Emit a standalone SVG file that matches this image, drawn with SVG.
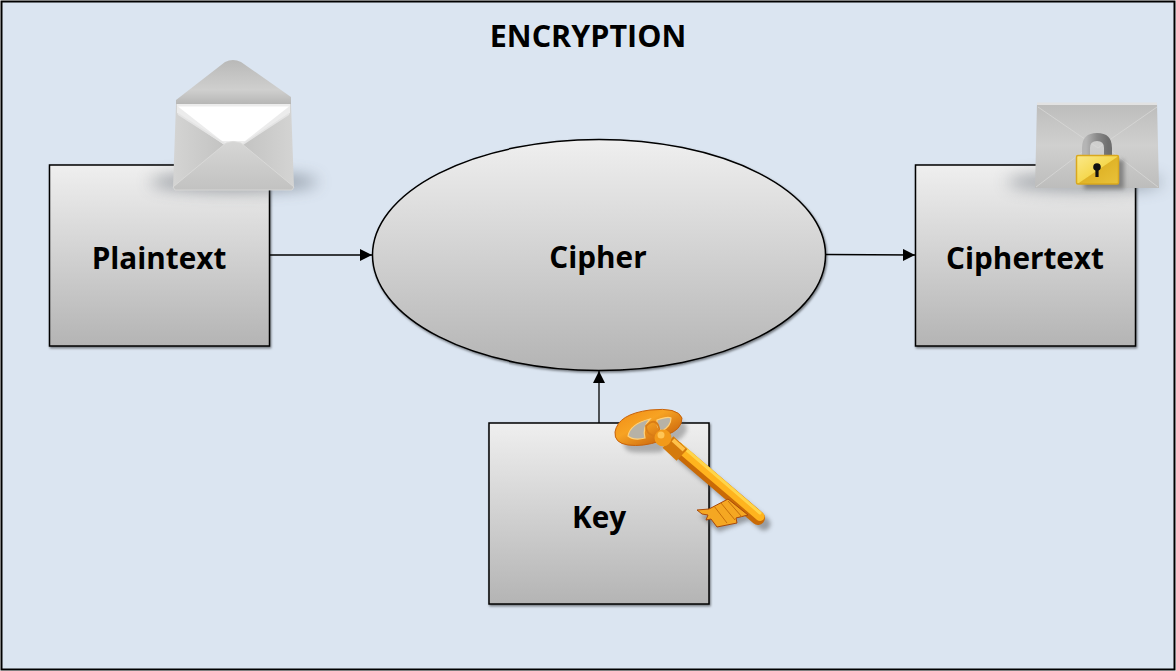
<svg xmlns="http://www.w3.org/2000/svg" width="1176" height="671" viewBox="0 0 1176 671">
<style>
text{font-family:"Open Sans","Noto Sans","Liberation Sans",sans-serif;font-weight:700;font-size:29.7px;fill:#000;text-anchor:middle}
.n{fill:url(#g);stroke:#000;stroke-width:1.5;filter:url(#ds)}
.c{stroke:#000;stroke-width:1.3;fill:none;marker-end:url(#a)}
</style>
<defs>
<linearGradient id="g" x1="0" y1="0" x2="0" y2="1"><stop offset="0" stop-color="#efefef"/><stop offset="1" stop-color="#b4b4b4"/></linearGradient>
<linearGradient id="e2" x1="0" y1="0" x2="1" y2="0"><stop offset="0" stop-color="#d4d4d3"/><stop offset=".5" stop-color="#c0c0bf"/><stop offset="1" stop-color="#d4d4d3"/></linearGradient>
<linearGradient id="e3" x1="0" y1="0" x2="0" y2="1"><stop offset="0" stop-color="#bcbcbb"/><stop offset=".5" stop-color="#d0d0cf"/><stop offset="1" stop-color="#bdbdbc"/></linearGradient>
<linearGradient id="f" x1="0" y1="0" x2="0" y2="1"><stop offset="0" stop-color="#b9b9b8"/><stop offset=".65" stop-color="#cfcfce"/><stop offset="1" stop-color="#b3b3b2"/></linearGradient>
<linearGradient id="fl" x1="0" y1="0" x2="0" y2="1"><stop offset="0" stop-color="#d6d6d5"/><stop offset="1" stop-color="#c2c2c1"/></linearGradient>
<linearGradient id="lock" x1="0" y1="0" x2="1" y2="1"><stop offset="0" stop-color="#fbe98a"/><stop offset=".5" stop-color="#f5d850"/><stop offset=".52" stop-color="#e0b428"/><stop offset="1" stop-color="#e9c23a"/></linearGradient>
<linearGradient id="sk" x1="0" y1="0" x2="1" y2="0"><stop offset="0" stop-color="#b5b5b5"/><stop offset=".5" stop-color="#8a8a8a"/><stop offset="1" stop-color="#6e6e6e"/></linearGradient>
<linearGradient id="kg" x1="0" y1="0" x2="1" y2="1"><stop offset="0" stop-color="#f08a14"/><stop offset=".4" stop-color="#f7a323"/><stop offset="1" stop-color="#b94e04"/></linearGradient>
<filter id="ds" x="-5%" y="-5%" width="110%" height="110%"><feDropShadow dx="1" dy="1.5" stdDeviation=".8" flood-color="#000" flood-opacity=".5"/></filter>
<filter id="b" x="-30%" y="-100%" width="160%" height="300%"><feGaussianBlur stdDeviation="8"/></filter>
<filter id="b2" x="-30%" y="-30%" width="160%" height="160%"><feGaussianBlur stdDeviation="2"/></filter>
<marker id="a" viewBox="0 0 12 12" refX="12" refY="6" markerWidth="12" markerHeight="12" markerUnits="userSpaceOnUse" orient="auto"><path d="M0 0L12 6L0 12Z" fill="#000"/></marker>
</defs>
<rect x="1.500" y="1.500" width="1173" height="668" fill="#dbe5f1" stroke="#000" stroke-width="2"/>
<text id="title" x="588" y="47" style="font-size:30.500px">ENCRYPTION</text>
<g id="connectors">
<path class="c" d="M270 255H372"/>
<path class="c" d="M826 254.500L915 255"/>
<path class="c" d="M599 423V371"/>
</g>
<g id="plaintext"><rect class="n" x="49.500" y="165" width="220" height="181"/><text x="159" y="269">Plaintext</text></g>
<g id="cipher"><ellipse class="n" cx="599" cy="255" rx="226.500" ry="115.500"/><text x="598" y="268">Cipher</text></g>
<g id="ciphertext"><rect class="n" x="915.500" y="165" width="220" height="181"/><text x="1025" y="269">Ciphertext</text></g>
<g id="key"><rect class="n" x="489" y="423" width="220" height="181"/><text x="599" y="528">Key</text></g>
<g id="envelope-open">
<ellipse cx="234" cy="182" rx="84" ry="9" fill="#4f5964" opacity=".55" filter="url(#b)"/>
<path d="M176 100L225 62Q233 58 241 62L291 97V106H176Z" fill="url(#f)"/>
<path d="M176 104H291L294 188H173Z" fill="url(#e2)"/>
<path d="M177 104H290V113L240 146H226L177 113Z" fill="#ececec"/>
<path d="M178 106.500H289L245 141H222Z" fill="#fff"/>
<path d="M178 114L228 146M289 114L240 146" fill="none" stroke="#e4e4e4" stroke-width="1.500"/>
<path d="M173 187L226 143Q233 140 241 143L294 187 292 190H175Z" fill="url(#fl)" stroke="#dcdcdb" stroke-width=".8"/>
</g>
<g id="envelope-lock">
<ellipse cx="1085" cy="182" rx="78" ry="9" fill="#4f5964" opacity=".5" filter="url(#b)"/>
<path d="M1037 103H1157L1159 188 1035 188Z" fill="url(#e3)"/>
<path d="M1037 102.500H1157V105H1037Z" fill="#e2e2e2"/>
<path d="M1038 107L1098 148 1157 107M1036 187L1085 150M1158 187L1110 150" fill="none" stroke="#d8d8d7" stroke-width=".8"/>
<rect x="1084" y="160" width="40" height="29" fill="#666" opacity=".7" filter="url(#b2)"/>
<path d="M1086 157V148Q1086 137 1097 137 1108 137 1108 148V157" fill="none" stroke="url(#sk)" stroke-width="8"/>
<rect x="1076.500" y="155.500" width="42" height="28.500" rx="1.500" fill="url(#lock)" stroke="#d9a81e" stroke-width="1.500"/>
<circle cx="1097" cy="167" r="3.800" fill="#111"/>
<rect x="1095.400" y="168" width="3.200" height="9" fill="#111"/>
</g>
<g id="key-icon">
<path d="M680 454L764 524" stroke="#555" stroke-width="13" opacity=".5" stroke-linecap="round" filter="url(#b2)"/>
<path d="M700 516L731 505 750 520 719 532Z" fill="#555" opacity=".5" filter="url(#b2)"/>
<path d="M620 434Q628 412 660 412 684 412 683 424 678 436 664 437L658 446Q640 447 628 446 618 444 620 434Z" fill="#555" opacity=".4" transform="translate(4 6)" filter="url(#b2)"/>
<path d="M615 432Q618 414 650 410 678 407 682 418 682 430 666 435L660 441Q643 447 628 445 614 443 615 432Z" fill="url(#kg)" stroke="#c8620a" stroke-width="1"/>
<path d="M628 436Q630 424 650 419 642 428 645 438 634 441 628 436ZM657 420Q668 416 671 418 671 426 662 431 656 428 657 420Z" fill="#b7b2a6" stroke="#ffd17a" stroke-width="1.200"/>
<path d="M646 426Q654 418 658 425 662 434 654 436 646 434 646 426Z" fill="none" stroke="#d97d16" stroke-width="1.800"/>
<path d="M676 448L758 518" stroke="#c96a06" stroke-width="14" stroke-linecap="round"/>
<path d="M678 446.500L760 516.500" stroke="#ffb41e" stroke-width="9" stroke-linecap="round"/>
<path d="M681 445L760 513" stroke="#ffd54a" stroke-width="3" stroke-linecap="round"/>
<path d="M668 442L682 455" stroke="#d47a0c" stroke-width="16"/>
<path d="M673 440L684 450" stroke="#ffc24a" stroke-width="4"/>
<circle cx="663" cy="438" r="8.500" fill="#f29a1a"/>
<circle cx="661" cy="435" r="3.500" fill="#ffc555"/>
<path d="M697 510L709 509 728 499 748 515 736 518 737 523 717 527 711 519 706 520 708 515 702 514Z" fill="#f5a722" stroke="#a8480a" stroke-width="1"/>
<path d="M714 506L727 523M721 503L735 520M728 501L742 517" stroke="#c66f0a" stroke-width="1"/>
</g>
</svg>
